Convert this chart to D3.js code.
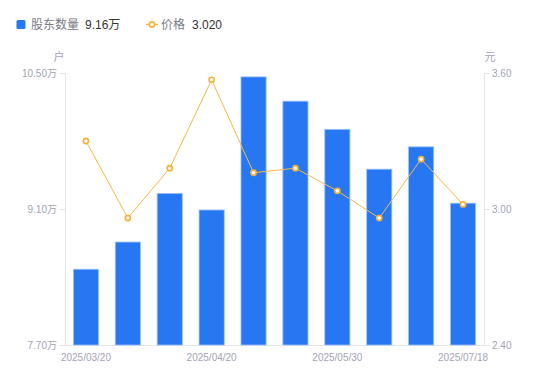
<!DOCTYPE html>
<html><head><meta charset="utf-8">
<script src="https://cdn.jsdelivr.net/npm/d3@7"></script>
<style>body{margin:0;background:#fff;font-family:"Liberation Sans","Noto Sans CJK SC",sans-serif;}
text{font-family:"Liberation Sans","Noto Sans CJK SC",sans-serif;}</style>
</head><body><svg id="c" width="550" height="381"></svg>
<script>
const dates = ["2025/03/20","2025/03/31","2025/04/10","2025/04/20","2025/04/30","2025/05/20","2025/05/30","2025/06/20","2025/06/30","2025/07/18"];
const holders = [8.48,8.76,9.26,9.09,10.46,10.21,9.92,9.51,9.74,9.16];
const prices = [3.30,2.96,3.18,3.57,3.16,3.18,3.08,2.96,3.22,3.02];
const leftTicks = [7.70,9.10,10.50];
const rightTicks = [2.40,3.00,3.60];
const shownDates = ["2025/03/20","2025/04/20","2025/05/30","2025/07/18"];

const svg = d3.select("#c");
const L=65,R=484,T=73,B=345;
const x = d3.scaleBand().domain(dates).range([L,R]).paddingInner(0.4).paddingOuter(0.2);
const yL = d3.scaleLinear().domain([7.70,10.50]).range([B,T]);
const yR = d3.scaleLinear().domain([2.40,3.60]).range([B,T]);
const tickCol="#a3a3b5", axisCol="#e3e3e8";

// axes
const gl = svg.append("g").attr("transform",`translate(${L},0)`)
  .call(d3.axisLeft(yL).tickValues(leftTicks).tickSize(5).tickPadding(3).tickFormat(d=>d3.format(".2f")(d)+"万"));
const gr = svg.append("g").attr("transform",`translate(${R},0)`)
  .call(d3.axisRight(yR).tickValues(rightTicks).tickSize(5).tickPadding(3).tickFormat(d3.format(".2f")));
const gb = svg.append("g").attr("transform",`translate(0,${B})`)
  .call(d3.axisBottom(x).tickValues(shownDates).tickSize(0).tickPadding(9));
[gl,gr,gb].forEach(g=>{
  g.selectAll("path,line").attr("stroke",axisCol);
  g.selectAll("text").attr("fill",tickCol).style("font-size","10px");
});
gb.select(".domain").attr("d",`M${L},0.5H${R}`);

// bars
svg.append("g").selectAll("rect").data(dates).join("rect")
  .attr("x",d=>x(d)).attr("width",x.bandwidth())
  .attr("y",(d,i)=>yL(holders[i])).attr("height",(d,i)=>B-yL(holders[i]))
  .attr("fill","#2777f2").attr("stroke","#9cc1f9").attr("stroke-width",0.8);

// line
const line = d3.line().x((d,i)=>x(dates[i])+x.bandwidth()/2).y(d=>yR(d));
svg.append("path").datum(prices).attr("d",line).attr("fill","none").attr("stroke","#f8b846").attr("stroke-width",1);
svg.append("g").selectAll("circle").data(prices).join("circle")
  .attr("cx",(d,i)=>x(dates[i])+x.bandwidth()/2).attr("cy",d=>yR(d)).attr("r",2.6)
  .attr("fill","#fff").attr("stroke","#f8b034").attr("stroke-width",1.6);

// units
svg.append("text").attr("x",59).attr("y",61).attr("text-anchor","middle").attr("fill",tickCol).style("font-size","11px").text("户");
svg.append("text").attr("x",490).attr("y",61).attr("text-anchor","middle").attr("fill",tickCol).style("font-size","11px").text("元");

// legend
const lg = svg.append("g").style("font-size","12px");
lg.append("rect").attr("x",16.5).attr("y",20).attr("width",9).attr("height",9).attr("rx",1.5).attr("fill","#2777f2");
lg.append("text").attr("x",31).attr("y",29).attr("fill","#7a7a86").text("股东数量");
lg.append("text").attr("x",85).attr("y",29).attr("fill","#333").text(d3.format(".2f")(holders[holders.length-1])+"万");
lg.append("line").attr("x1",146).attr("x2",158).attr("y1",24.5).attr("y2",24.5).attr("stroke","#f8b846").attr("stroke-width",1.5);
lg.append("circle").attr("cx",152).attr("cy",24.5).attr("r",2.6).attr("fill","#fff").attr("stroke","#f8b034").attr("stroke-width",1.6);
lg.append("text").attr("x",161).attr("y",29).attr("fill","#7a7a86").text("价格");
lg.append("text").attr("x",192).attr("y",29).attr("fill","#333").text(d3.format(".3f")(prices[prices.length-1]));
</script></body></html>
